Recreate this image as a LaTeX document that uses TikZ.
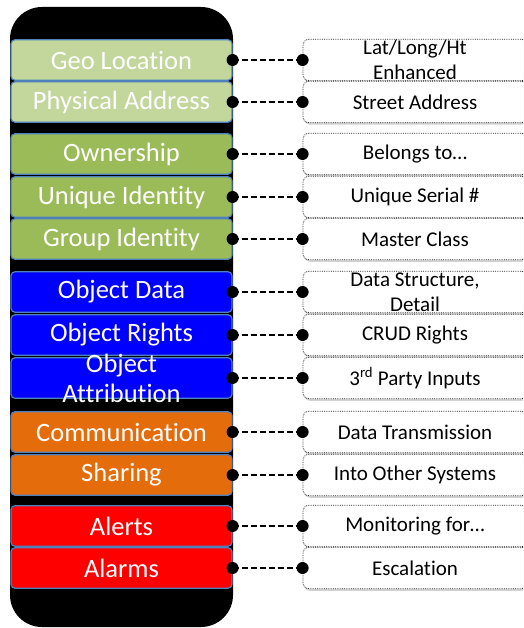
\documentclass[tikz,border=0pt]{standalone}
\usepackage{fontspec}
\setmainfont[Ligatures=NoCommon]{Carlito}
\usetikzlibrary{shadows}
\definecolor{geogreen}{HTML}{C3D69B}
\definecolor{idgreen}{HTML}{9BBB59}
\definecolor{objblue}{HTML}{0000FF}
\definecolor{comorange}{HTML}{E46C0A}
\definecolor{alertred}{HTML}{FF0000}
\definecolor{edgeblue}{HTML}{4F81BD}
\tikzset{
	layer/.style = {draw=edgeblue, line width=1.2pt, rounded corners=4pt, minimum width=221pt, minimum height=40.5pt, inner sep=0pt},
	layertext/.style = {text=white, font=\fontsize{26.5}{30}\selectfont, align=center, inner sep=0pt},
	note/.style = {draw=black!85, densely dotted, line width=0.8pt, fill=white, rounded corners=6pt, minimum width=224pt, minimum height=41.5pt, inner sep=0pt, drop shadow={opacity=0.35, shadow xshift=1pt, shadow yshift=-2pt}},
	notetext/.style = {font=\fontsize{21}{25}\selectfont, align=center, inner sep=0pt},
	link/.style = {dash pattern=on 6pt off 3pt, line width=1.5pt},
	knob/.style = {circle, fill=black, minimum size=12pt, inner sep=0pt}
}

\begin{document}
\begin{tikzpicture}[x=1pt, y=-1pt]
	\clip (0,0) rectangle (523,628);
	% ====== Stack ========
	\fill[black, rounded corners=32pt] (10,7) rectangle (233,627);
	% ====== Layers and notes ========
	\foreach \n/\y/\c/\lt/\rt in {
		1/60/geogreen/{Geo Location}/{Lat/Long/Ht\\Enhanced},
		2/102/geogreen/{Physical Address}/{Street Address},
		3/154/idgreen/{Ownership}/{Belongs to…},
		4/197/idgreen/{Unique Identity}/{Unique Serial \#},
		5/239/idgreen/{Group Identity}/{Master Class},
		6/292/objblue/{Object Data}/{Data Structure,\\Detail},
		7/335/objblue/{Object Rights}/{CRUD Rights},
		8/378/objblue/{Object\\Attribution}/{3\textsuperscript{rd} Party Inputs},
		9/432/comorange/{Communication}/{Data Transmission},
		10/475/comorange/{Sharing}/{Into Other Systems},
		11/526/alertred/{Alerts}/{Monitoring for…},
		12/568/alertred/{Alarms}/{Escalation}} {
		\node[layer, fill=\c] (l\n) at (121.5,\y) {};
		\node[layertext] (lt\n) at (l\n.center) {\lt};
		\node[note] (r\n) at (415,\y) {};
		\node[notetext] (rt\n) at (r\n.center) {\rt};
		\draw[link] (l\n.east) -- (r\n.west);
		\node[knob] (a\n) at (l\n.east) {};
		\node[knob] (b\n) at (r\n.west) {};
	}
\end{tikzpicture}
\end{document}
